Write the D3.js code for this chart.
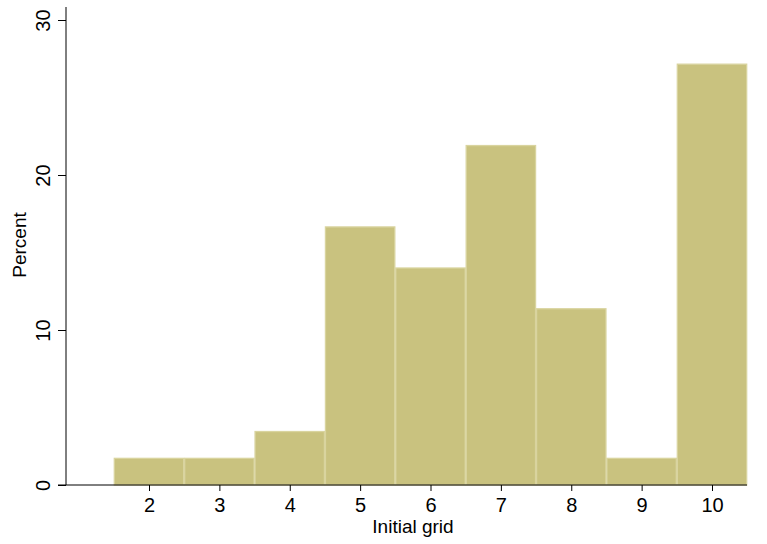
<!DOCTYPE html>
<html>
<head>
<meta charset="utf-8">
<script src="https://cdn.jsdelivr.net/npm/d3@7"></script>
<style>
  body { margin: 0; background: #fff; }
  text { font-family: "Liberation Sans", Arial, sans-serif; fill: #000; }
</style>
</head>
<body>
<svg id="chart" width="767" height="544"></svg>
<script>
// histogram data: percent of cases by initial grid size
const gridSizes = [2, 3, 4, 5, 6, 7, 8, 9, 10];
const percents = [1.72, 1.72, 3.45, 16.65, 14.0, 21.9, 11.37, 1.72, 27.15];
const yTicks = [0, 10, 20, 30];

const svg = d3.select('#chart');

var x = d3.scaleLinear()
  .domain([2, 10])
  .range([149, 712]);

var y = d3.scaleLinear()
  .domain([0, 30])
  .range([485, 20]);

var data = gridSizes.map((g, i) => ({ g: g, p: percents[i] }));

// bars
svg.append('g')
  .selectAll('rect')
  .data(data)
  .enter()
  .append('rect')
  .attr('x', d => x(d.g - 0.5) + 0.5)
  .attr('width', d => x(d.g + 0.5) - x(d.g - 0.5) - 1)
  .attr('y', d => y(d.p))
  .attr('height', d => y(0) - y(d.p))
  .style('fill', '#c9c27f')
  .style('stroke', '#d9d49f')
  .style('stroke-width', 1.3);

// y axis
var yAxis = d3.axisLeft(y).tickValues(yTicks).tickSize(8);
var gy = svg.append('g')
  .attr('transform', 'translate(66,0)')
  .call(yAxis);
gy.select('.domain').remove();
gy.append('line')
  .attr('x1', 0).attr('x2', 0)
  .attr('y1', 7).attr('y2', 485)
  .style('stroke', '#000').style('stroke-width', 1);
gy.selectAll('.tick line').style('stroke', '#000');
// rotated tick labels, reading upward
gy.selectAll('.tick text')
  .style('font-size', '20px')
  .attr('text-anchor', 'middle')
  .attr('transform', 'rotate(-90)')
  .attr('x', 0)
  .attr('y', -16)
  .attr('dy', 0);

// x axis
var xAxis = d3.axisBottom(x).tickValues(gridSizes).tickSize(6);
var gx = svg.append('g')
  .attr('transform', 'translate(0,485)')
  .call(xAxis);
gx.select('.domain').remove();
gx.append('line')
  .attr('x1', 58).attr('x2', 747)
  .attr('y1', 0).attr('y2', 0)
  .style('stroke', '#000').style('stroke-width', 1);
gx.selectAll('.tick line').style('stroke', '#000');
gx.selectAll('.tick text')
  .style('font-size', '20px')
  .attr('y', 27)
  .attr('dy', 0);

// axis titles
svg.append('text')
  .attr('x', 413)
  .attr('y', 533)
  .attr('text-anchor', 'middle')
  .style('font-size', '19px')
  .text('Initial grid');

svg.append('text')
  .attr('transform', 'translate(26,245) rotate(-90)')
  .attr('text-anchor', 'middle')
  .style('font-size', '19px')
  .text('Percent');
</script>
</body>
</html>
